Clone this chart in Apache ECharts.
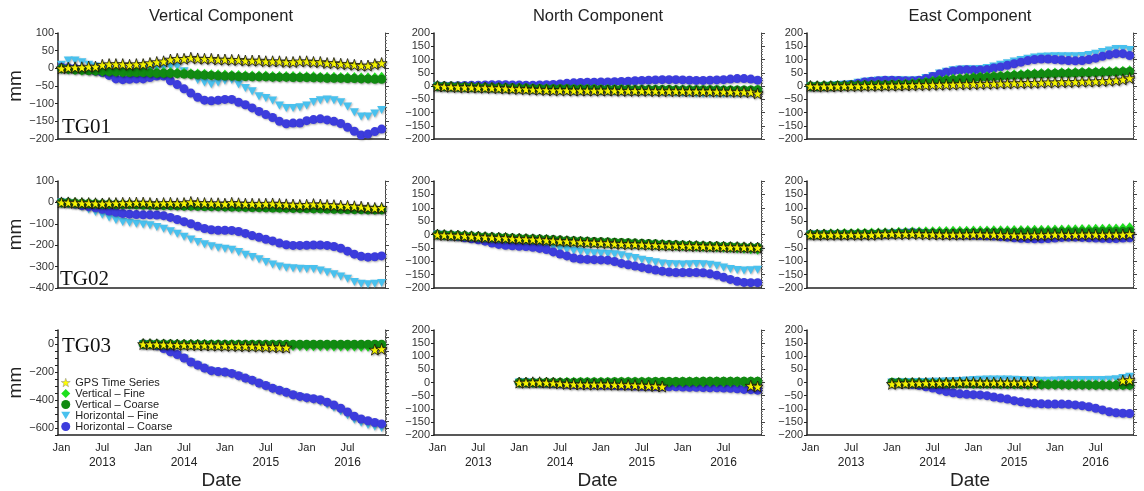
<!DOCTYPE html>
<html>
<head>
    <meta charset="UTF-8">
    <title>GPS vs model time series</title>
    <script src="https://cdn.jsdelivr.net/npm/echarts@6/dist/echarts.min.js"></script>
</head>
<body style="margin:0;background:#fff;">
<div id="chart" style="width:1144px;height:491px;"></div>
<script>
    // months Jan 2013 .. Dec 2016, one point per month
    var months = [];
    [2013, 2014, 2015, 2016].forEach(function (y) {
        for (var m = 1; m <= 12; m++) months.push(y + '-' + (m < 10 ? '0' + m : m));
    });
    var seriesNames = ['GPS Time Series', 'Vertical \u2013 Fine', 'Vertical \u2013 Coarse', 'Horizontal \u2013 Fine', 'Horizontal \u2013 Coarse'];
    var columnTitles = ['Vertical Component', 'North Component', 'East Component'];
    var stations = ['TG01', 'TG02', 'TG03'];

    // ---- TG01 ----
    var tg01VertGps = [0,2,3,3,5,5,10,12,12,12,10,12, 12,15,18,20,25,27,27,30,28,27,27,25, 25,24,24,22,22,22,20,20,20,18,18,20, 20,18,18,15,15,13,12,10,8,8,12,15];
    var tg01VertVFine = [0,-2,-3,-5,-5,-6,-8,-8,-9,-10,-10,-10, -10,-11,-12,-12,-12,-13,-14,-15,-16,-17,-18,-18, -19,-20,-20,-21,-22,-22,-22,-23,-23,-23,-23,-24, -24,-24,-25,-25,-25,-26,-26,-26,-27,-27,-27,-25];
    var tg01VertVCoarse = [0,-2,-4,-5,-6,-7,-8,-9,-10,-11,-12,-12, -12,-13,-14,-14,-14,-15,-16,-17,-18,-19,-20,-21, -22,-22,-23,-23,-24,-24,-24,-25,-25,-25,-26,-26, -26,-27,-27,-28,-28,-28,-29,-29,-30,-30,-31,-31];
    var tg01VertHFine = [10,22,22,17,10,5,0,-5,-10,-10,-10,-8, -5,-2,0,2,5,5,-8,-20,-33,-40,-45,-40, -35,-33,-45,-56,-65,-79,-84,-91,-105,-112,-112,-110, -105,-95,-90,-88,-90,-96,-108,-124,-136,-136,-128,-118];
    var tg01VertHCoarse = [3,2,0,-2,-5,-8,-12,-20,-30,-32,-31,-30, -30,-26,-22,-22,-35,-46,-58,-70,-82,-90,-92,-90, -88,-88,-96,-103,-112,-122,-131,-139,-150,-157,-155,-155, -148,-145,-143,-146,-150,-156,-167,-178,-189,-186,-179,-172];

    var tg01NorthGps = [0,-2,-3,-4,-5,-5,-6,-6,-7,-8,-9,-10, -11,-12,-13,-14,-15,-16,-16,-16,-17,-17,-17,-17, -17,-17,-17,-18,-18,-18,-18,-18,-19,-19,-19,-19, -19,-20,-20,-20,-20,-21,-21,-21,-22,-22,-23,-28];
    var tg01NorthVFine = [0,-1,-2,-3,-4,-4,-5,-6,-6,-7,-7,-8, -8,-9,-9,-10,-10,-11,-11,-11,-12,-12,-12,-12, -13,-13,-13,-13,-14,-14,-14,-14,-14,-15,-15,-15, -15,-15,-16,-16,-16,-16,-16,-17,-17,-17,-17,-16];
    var tg01NorthVCoarse = [0,-1,-2,-3,-3,-4,-5,-5,-6,-6,-7,-7, -8,-8,-9,-9,-10,-10,-10,-10,-11,-11,-11,-11, -12,-12,-12,-12,-12,-13,-13,-13,-13,-13,-13,-14, -14,-14,-14,-14,-14,-14,-15,-15,-15,-15,-15,-14];
    var tg01NorthHFine = [0,-1,-2,-3,-4,-5,-6,-7,-8,-9,-10,-11, -12,-13,-14,-15,-16,-17,-18,-18,-19,-19,-20,-20, -20,-21,-21,-21,-22,-22,-22,-23,-23,-24,-25,-26, -27,-28,-29,-30,-30,-30,-30,-30,-29,-28,-28,-28];
    var tg01NorthHCoarse = [0,0,0,1,2,3,3,4,5,5,5,4, 4,3,3,4,5,6,8,10,12,13,14,14, 15,15,16,17,18,20,21,22,23,24,24,24, 23,22,21,21,22,23,24,26,28,28,26,22];

    var tg01EastGps = [0,-1,-1,-1,-1,0,0,0,1,1,1,2, 2,2,3,3,4,4,5,5,6,6,7,7, 8,8,9,9,10,10,11,11,12,12,13,14, 14,15,15,16,17,17,18,19,20,22,25,30];
    var tg01EastVFine = [0,0,1,1,2,2,3,3,4,4,5,5, 6,7,8,9,11,14,18,22,24,26,28,30, 32,34,35,37,38,40,42,43,45,46,47,48, 49,50,50,51,52,52,53,54,55,55,56,58];
    var tg01EastVCoarse = [0,0,1,1,2,2,3,3,4,4,5,5, 6,6,7,8,10,13,16,20,22,24,26,28, 30,32,33,35,36,38,40,41,43,44,45,46, 47,48,48,49,50,50,51,52,53,53,54,55];
    var tg01EastHFine = [-2,-2,0,1,3,5,8,12,16,19,21,22, 22,22,21,21,23,30,38,47,54,59,62,63, 63,64,68,74,80,86,92,98,103,108,110,111, 112,112,112,112,113,117,122,128,134,140,140,136];
    var tg01EastHCoarse = [-2,-2,-1,0,2,4,6,10,15,18,20,22, 22,21,20,20,22,28,36,45,52,57,60,61, 60,60,62,68,72,78,84,90,96,100,102,102, 100,98,96,95,96,100,105,112,118,122,122,115];

    // ---- TG02 ----
    var tg02VertGps = [0,0,-2,-3,-3,-4,-5,-3,-3,-2,-2,-1, -1,-3,-5,-3,-2,-4,-3,2,-2,-3,-4,-4, -6,-2,-4,-6,-6,-7,-6,-5,-7,-9,-10,-12, -11,-8,-10,-12,-13,-15,-16,-18,-20,-24,-26,-25];
    var tg02VertVFine = [0,-1,-2,-3,-4,-5,-6,-6,-7,-8,-8,-9, -10,-10,-11,-12,-12,-13,-14,-14,-15,-16,-16,-17, -18,-18,-19,-20,-20,-21,-22,-22,-23,-24,-24,-25, -25,-26,-26,-27,-27,-28,-28,-29,-30,-30,-31,-30];
    var tg02VertVCoarse = [0,-1,-3,-4,-5,-6,-7,-8,-9,-10,-10,-11, -12,-13,-14,-14,-15,-16,-17,-17,-18,-19,-20,-20, -21,-22,-22,-23,-24,-24,-25,-26,-26,-27,-28,-28, -29,-30,-30,-31,-32,-32,-33,-34,-34,-35,-35,-35];
    var tg02VertHFine = [0,-5,-12,-22,-33,-45,-58,-70,-82,-92,-95,-100, -103,-107,-115,-123,-135,-146,-160,-173,-185,-196,-205,-212, -217,-221,-232,-245,-255,-266,-279,-290,-299,-305,-308,-310, -311,-311,-318,-326,-336,-346,-357,-372,-380,-382,-380,-377];
    var tg02VertHCoarse = [0,-3,-8,-15,-20,-25,-32,-40,-46,-52,-55,-57, -58,-58,-59,-62,-70,-80,-90,-100,-112,-122,-128,-130, -130,-131,-136,-145,-155,-163,-172,-180,-190,-198,-201,-201, -200,-199,-199,-201,-206,-214,-228,-242,-252,-256,-254,-250];

    var tg02NorthGps = [0,-2,-3,-4,-5,-7,-8,-10,-11,-12,-13,-15, -16,-17,-18,-19,-21,-22,-24,-25,-26,-28,-29,-30, -31,-32,-34,-35,-36,-36,-37,-38,-39,-40,-41,-41, -42,-43,-43,-44,-45,-45,-46,-47,-47,-48,-48,-49];
    var tg02NorthVFine = [0,-2,-3,-4,-5,-7,-8,-9,-11,-12,-13,-14, -16,-17,-18,-19,-20,-22,-23,-24,-25,-27,-28,-29, -30,-31,-32,-33,-34,-35,-36,-37,-38,-39,-40,-41, -42,-43,-44,-45,-46,-47,-48,-49,-50,-51,-53,-55];
    var tg02NorthVCoarse = [0,-1,-2,-3,-4,-6,-7,-8,-9,-10,-11,-13, -14,-15,-16,-17,-18,-19,-21,-22,-23,-24,-25,-26, -27,-28,-29,-30,-31,-32,-33,-34,-35,-36,-37,-38, -39,-40,-41,-42,-43,-43,-44,-45,-46,-47,-48,-48];
    var tg02NorthHFine = [0,-2,-4,-6,-8,-11,-14,-17,-20,-23,-26,-28, -30,-32,-34,-36,-40,-47,-53,-57,-61,-64,-67,-70, -71,-72,-74,-78,-83,-88,-94,-99,-104,-108,-110,-111, -112,-111,-110,-111,-113,-117,-123,-129,-133,-135,-134,-132];
    var tg02NorthHCoarse = [0,-3,-6,-8,-12,-16,-20,-25,-32,-37,-40,-42, -44,-45,-48,-52,-56,-65,-73,-80,-88,-92,-93,-94, -95,-96,-101,-108,-113,-118,-123,-128,-133,-137,-140,-142, -142,-142,-142,-143,-147,-152,-160,-168,-175,-179,-180,-180];

    var tg02EastGps = [0,-1,0,-1,0,-1,0,-1,0,-1,1,2, 3,2,2,3,2,1,1,0,0,0,0,0, 1,1,0,0,-1,-2,-2,-3,-3,-2,-2,-1, 0,0,-1,-1,0,0,0,-1,0,0,0,2];
    var tg02EastVFine = [0,1,2,3,3,4,4,5,5,6,6,7, 7,8,8,9,9,10,10,11,11,12,12,12, 13,13,13,14,14,14,15,15,15,16,16,16, 17,17,18,18,19,19,20,20,21,21,22,25];
    var tg02EastVCoarse = [0,0,1,1,1,2,2,2,3,3,3,4, 4,4,5,5,5,5,6,6,6,6,7,7, 7,7,8,8,8,8,8,9,9,9,9,9, 10,10,10,10,10,10,11,11,11,11,11,12];
    var tg02EastHFine = [0,0,0,0,0,0,0,0,1,1,2,3, 4,5,6,7,6,5,3,2,1,0,-1,-1, -2,-3,-4,-5,-6,-7,-8,-9,-10,-10,-10,-9, -8,-7,-6,-6,-7,-8,-9,-10,-10,-10,-9,-8];
    var tg02EastHCoarse = [0,0,0,0,0,0,0,0,0,0,1,2, 3,5,7,8,7,5,3,1,0,-1,-2,-2, -3,-4,-5,-6,-8,-10,-12,-14,-15,-16,-16,-15, -13,-11,-10,-10,-11,-12,-13,-14,-15,-15,-13,-12];

    // ---- TG03 (records start Jan 2014) ----
    var tg03VertGps = [0,-1,-2,-3,-4,-5,-6,-7,-8,-9,-10,-11, -12,-13,-14,-15,-16,-17,-19,-21,-23,-25, null,null,null,null,null,null,null,null,null,null,null,null, -40,-35];
    var tg03VertVFine = [0,0,-1,-1,-2,-2,-3,-3,-4,-4,-5,-5, -6,-6,-7,-7,-8,-8,-9,-9,-10,-10,-11,-11, -12,-12,-13,-13,-14,-14,-15,-15,-16,-16,-17,-18];
    var tg03VertVCoarse = [0,0,0,0,0,-1,-1,-1,-1,-1,-2,-2, -2,-2,-2,-2,-2,-2,-2,-2,-2,-2,-2,-2, -2,-2,-2,-2,-2,-2,-2,-2,-1,-1,-1,-1];
    var tg03VertHFine = [0,-3,-14,-35,-58,-78,-104,-132,-155,-177,-195,-202, -206,-216,-232,-249,-265,-285,-303,-322,-337,-352,-368,-380, -390,-398,-412,-432,-455,-480,-508,-540,-562,-578,-590,-600];
    var tg03VertHCoarse = [0,-2,-12,-32,-55,-75,-100,-128,-150,-172,-190,-197, -200,-210,-226,-243,-258,-278,-296,-315,-330,-345,-362,-374, -383,-390,-398,-415,-435,-458,-485,-515,-535,-548,-560,-570];

    var tg03NorthGps = [0,0,1,1,0,-1,-3,-5,-6,-7,-7,-7, -7,-7,-8,-8,-9,-10,-11,-12,-13,-15, null,null,null,null,null,null,null,null,null,null,null,null, -12,-15];
    var tg03NorthVFine = [0,0,0,0,0,0,0,1,1,1,1,1, 1,1,1,2,2,2,2,2,2,2,2,2, 3,3,3,3,3,3,3,3,3,3,3,3];
    var tg03NorthVCoarse = [0,0,0,0,1,1,1,1,1,2,2,2, 2,2,3,3,3,3,3,3,4,4,4,4, 4,4,4,5,5,5,5,5,5,5,5,5];
    var tg03NorthHFine = [0,0,-1,-2,-3,-4,-5,-6,-6,-7,-8,-9, -9,-10,-11,-11,-12,-13,-13,-14,-14,-15,-15,-16, -17,-17,-18,-19,-19,-20,-21,-22,-23,-24,-26,-28];
    var tg03NorthHCoarse = [0,0,-1,-2,-3,-4,-5,-6,-7,-8,-8,-9, -10,-10,-11,-12,-12,-13,-14,-14,-15,-15,-16,-16, -17,-18,-18,-19,-20,-20,-21,-22,-24,-26,-27,-29];

    var tg03EastGps = [-5,-3,-3,-2,-2,-1,-1,-1,0,0,1,1, 1,0,0,0,0,0,0,0,0,0, null,null,null,null,null,null,null,null,null,null,null,null, 8,10];
    var tg03EastVFine = [0,0,-1,-1,-1,-2,-2,-2,-3,-3,-3,-3, -4,-4,-4,-4,-5,-5,-5,-5,-6,-6,-6,-6, -7,-7,-7,-7,-7,-8,-8,-8,-8,-8,-8,-8];
    var tg03EastVCoarse = [0,0,-1,-1,-2,-2,-3,-3,-3,-4,-4,-4, -5,-5,-5,-5,-6,-6,-6,-7,-7,-7,-8,-8, -8,-8,-9,-9,-9,-9,-10,-10,-10,-10,-10,-10];
    var tg03EastHFine = [0,0,1,1,2,2,3,3,4,5,6,8, 10,11,12,12,12,12,11,10,9,8,7,7, 8,9,10,10,10,10,10,10,11,13,17,22];
    var tg03EastHCoarse = [0,-2,-4,-7,-11,-16,-21,-28,-34,-39,-43,-45, -46,-47,-50,-55,-59,-63,-69,-73,-77,-79,-81,-82, -82,-82,-83,-85,-88,-92,-98,-104,-111,-115,-117,-118];

    // TG03 starts in Jan 2014: pad the first year
    function fromJan2014(arr) {
        var out = [];
        for (var i = 0; i < 12; i++) out.push(null);
        return out.concat(arr);
    }

    var panelData = [
        [[tg01VertGps, tg01VertVFine, tg01VertVCoarse, tg01VertHFine, tg01VertHCoarse],
         [tg01NorthGps, tg01NorthVFine, tg01NorthVCoarse, tg01NorthHFine, tg01NorthHCoarse],
         [tg01EastGps, tg01EastVFine, tg01EastVCoarse, tg01EastHFine, tg01EastHCoarse]],
        [[tg02VertGps, tg02VertVFine, tg02VertVCoarse, tg02VertHFine, tg02VertHCoarse],
         [tg02NorthGps, tg02NorthVFine, tg02NorthVCoarse, tg02NorthHFine, tg02NorthHCoarse],
         [tg02EastGps, tg02EastVFine, tg02EastVCoarse, tg02EastHFine, tg02EastHCoarse]],
        [[tg03VertGps, tg03VertVFine, tg03VertVCoarse, tg03VertHFine, tg03VertHCoarse].map(fromJan2014),
         [tg03NorthGps, tg03NorthVFine, tg03NorthVCoarse, tg03NorthHFine, tg03NorthHCoarse].map(fromJan2014),
         [tg03EastGps, tg03EastVFine, tg03EastVCoarse, tg03EastHFine, tg03EastHCoarse].map(fromJan2014)]
    ];

    // y ranges: [min, max, interval, label step]
    var yRanges = [
        [[-200, 100, 50, 50], [-200, 200, 50, 50], [-200, 200, 50, 50]],
        [[-400, 100, 100, 100], [-200, 200, 50, 50], [-200, 200, 50, 50]],
        [[-650, 100, 50, 200], [-200, 200, 50, 50], [-200, 200, 50, 50]]
    ];

    var gridLeft = [58, 434, 807], gridWidth = [327, 327, 326];
    var gridTop = [33, 181, 330], gridHeight = [106, 107, 107];

    var starPath = 'path://M50,0 L61.8,35.1 L97.6,34.5 L69.1,56.9 L79.4,90.5 L50,70.5 L20.6,90.5 L30.9,56.9 L2.4,34.5 L38.2,35.1 Z';
    var downTriangle = 'path://M0,0 L100,0 L50,86 Z';
    var shadow = {opacity: 1, shadowColor: 'rgba(0,0,0,0.3)', shadowBlur: 2, shadowOffsetX: 1, shadowOffsetY: 1};
    var styles = [
        {symbol: starPath, size: 11, z: 6, item: {color: '#ffff00', borderColor: '#111', borderWidth: 0.8}},
        {symbol: 'diamond', size: [9, 11], z: 4, item: {color: '#1ee01e'}},
        {symbol: 'circle', size: 9, z: 5, item: {color: '#118a11'}},
        {symbol: downTriangle, size: [9, 8], z: 2, item: {color: '#49c1ee'}},
        {symbol: 'circle', size: 9, z: 3, item: {color: '#3c3cdc'}}
    ];

    function fmtNum(v) {
        return v < 0 ? '\u2212' + (-v) : '' + v;
    }

    var grids = [], xAxes = [], yAxes = [], series = [];
    var k = 0;
    for (var r = 0; r < 3; r++) {
        for (var c = 0; c < 3; c++) {
            grids.push({left: gridLeft[c], top: gridTop[r], width: gridWidth[c], height: gridHeight[r]});
            var yr = yRanges[r][c];
            xAxes.push({
                type: 'category', gridIndex: k, data: months, boundaryGap: true,
                axisLine: {onZero: false, lineStyle: {color: '#222', width: 1.5}},
                axisTick: {interval: function (i) { return i % 12 === 6; }, length: 5, lineStyle: {color: '#444'}},
                axisLabel: {
                    show: r === 2, interval: function (i) { return i % 6 === 0; },
                    color: '#222', fontSize: 11, margin: 6, lineHeight: 14,
                    formatter: function (v) {
                        return v.slice(5) === '01' ? 'Jan' : 'Jul\n{y|' + v.slice(0, 4) + '}';
                    },
                    rich: {y: {fontSize: 12, lineHeight: 15, color: '#222'}}
                },
                name: r === 2 ? 'Date' : '', nameLocation: 'middle', nameGap: 32,
                nameTextStyle: {fontSize: 19, color: '#222'},
                splitLine: {show: false}
            });
            // long grey ticks at each January
            xAxes.push({
                type: 'category', gridIndex: k, data: months, boundaryGap: true, position: 'bottom',
                axisLine: {show: false, onZero: false},
                axisTick: {interval: function (i) { return i % 12 === 0; }, length: 11, lineStyle: {color: '#999', width: 2}},
                axisLabel: {show: false}, splitLine: {show: false}
            });
            (function (step) {
                yAxes.push({
                    type: 'value', gridIndex: k, min: yr[0], max: yr[1], interval: yr[2], position: 'left',
                    axisLine: {show: true, onZero: false, lineStyle: {color: '#222', width: 1.5}},
                    axisTick: {show: true, length: 3, lineStyle: {color: '#222'}},
                    axisLabel: {
                        color: '#333', fontSize: 11, margin: 4,
                        formatter: function (v) { return v % step === 0 ? fmtNum(v) : ''; }
                    },
                    splitLine: {show: false},
                    name: c === 0 ? 'mm' : '', nameLocation: 'middle', nameGap: 31, nameRotate: 90,
                    nameTextStyle: {fontSize: 19, color: '#222'}
                });
            })(yr[3]);
            yAxes.push({
                type: 'value', gridIndex: k, min: yr[0], max: yr[1], interval: yr[2], position: 'right',
                axisLine: {show: true, onZero: false, lineStyle: {color: '#444', width: 1}},
                axisTick: {show: true, length: 4, lineStyle: {color: '#444'}},
                minorTick: {show: true, splitNumber: 5, length: 2, lineStyle: {color: '#777'}},
                axisLabel: {show: false}, splitLine: {show: false}
            });
            for (var s = 0; s < 5; s++) {
                var st = styles[s];
                series.push({
                    name: seriesNames[s], type: 'scatter',
                    xAxisIndex: k * 2, yAxisIndex: k * 2,
                    symbol: st.symbol, symbolSize: st.size, z: st.z,
                    itemStyle: Object.assign({}, st.item, shadow),
                    data: panelData[r][c][s].map(function (v) { return v === null ? '-' : v; })
                });
            }
            k++;
        }
    }

    var titleX = [221, 598, 970];
    var labelPos = [[62, 127], [60, 279], [62, 346]];
    var graphics = [];
    columnTitles.forEach(function (t, i) {
        graphics.push({type: 'text', x: titleX[i], y: 16,
            style: {text: t, font: '16.5px "Liberation Sans", Arial, sans-serif', fill: '#222', textAlign: 'center', textVerticalAlign: 'middle'}});
    });
    stations.forEach(function (t, i) {
        graphics.push({type: 'text', x: labelPos[i][0], y: labelPos[i][1], z: 10,
            style: {text: t, font: '21px "Liberation Serif", "Times New Roman", serif', fill: '#111', textAlign: 'left', textVerticalAlign: 'middle'}});
    });

    var legendData = seriesNames.map(function (n, i) {
        return i === 0 ? {name: n, itemStyle: {color: '#ffff00', borderColor: '#888', borderWidth: 0.5, shadowBlur: 0, shadowOffsetX: 0, shadowOffsetY: 0}}
                       : {name: n, itemStyle: {shadowBlur: 0, shadowOffsetX: 0, shadowOffsetY: 0}};
    });

    var chart = echarts.init(document.getElementById('chart'));
    chart.setOption({
        animation: false,
        backgroundColor: '#fff',
        textStyle: {fontFamily: '"Liberation Sans", Arial, sans-serif'},
        grid: grids,
        xAxis: xAxes,
        yAxis: yAxes,
        legend: {
            data: legendData, orient: 'vertical', left: 61, top: 377, padding: 0,
            itemGap: 0, itemWidth: 9, itemHeight: 9,
            textStyle: {fontSize: 11, color: '#222', lineHeight: 10.5}
        },
        graphic: graphics,
        series: series
    });
</script>
</body>
</html>
